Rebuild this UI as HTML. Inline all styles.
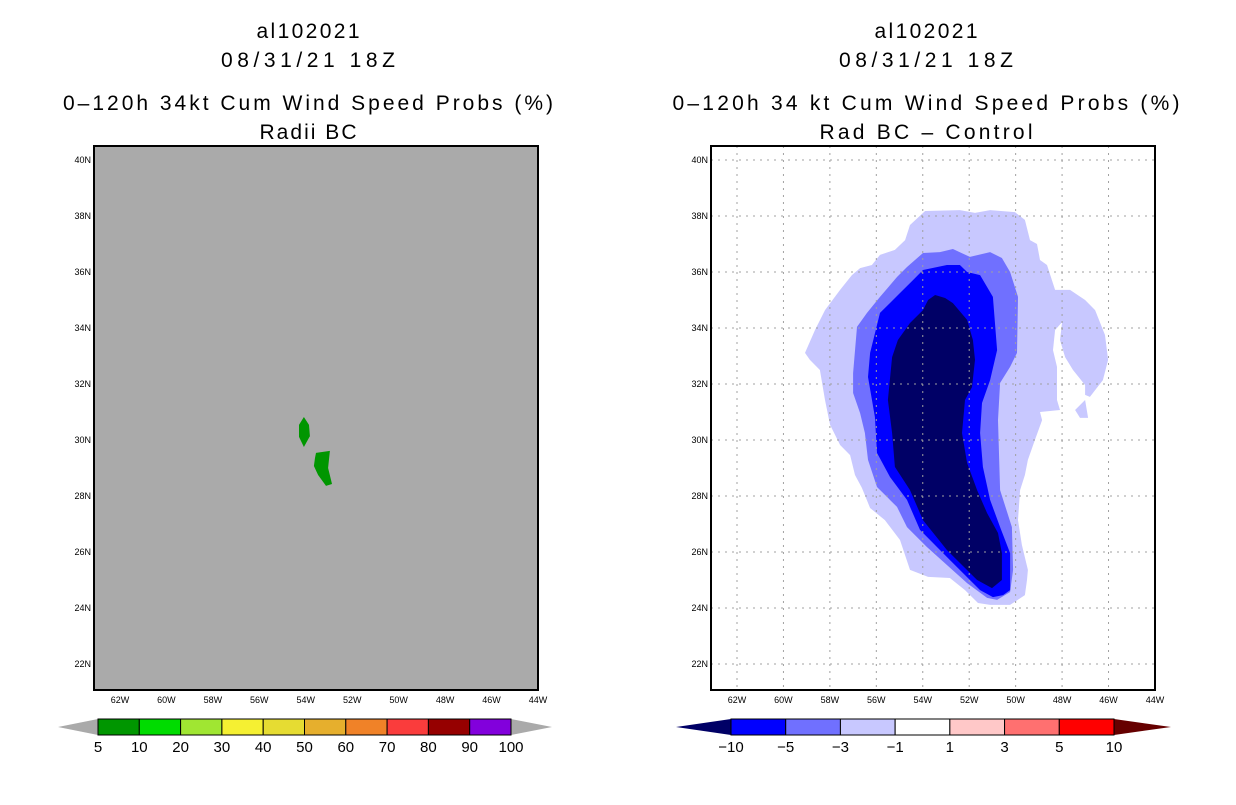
<!DOCTYPE html>
<html><head><meta charset="utf-8"><style>
body{margin:0;background:#fff;width:1236px;height:800px;overflow:hidden}
svg text{font-family:"Liberation Sans",sans-serif}
</style></head><body>
<svg width="1236" height="800">
<g id="titles" font-size="21" text-anchor="middle" fill="#000" lengthAdjust="spacing">
<text x="308" y="38" textLength="103">al102021</text>
<text x="308" y="67" textLength="174">08/31/21 18Z</text>
<text x="308" y="110" textLength="490">0–120h 34kt Cum Wind Speed Probs (%)</text>
<text x="308" y="139" textLength="97">Radii BC</text>
<text x="926" y="38" textLength="103">al102021</text>
<text x="926" y="67" textLength="174">08/31/21 18Z</text>
<text x="926" y="110" textLength="507">0–120h 34 kt Cum Wind Speed Probs (%)</text>
<text x="926" y="139" textLength="213">Rad BC – Control</text>
</g>
<g id="left"></g>
<g id="right"></g>
<g id="cb"></g>
</svg>
<script>
const lonTicks=[62,60,58,56,54,52,50,48,46,44];
const latTicks=[40,38,36,34,32,30,28,26,24,22];
const blobA=[[54.08,30.82],[53.86,30.54],[53.82,30.14],[54.08,29.75],[54.29,30.11],[54.29,30.54]];
const blobB=[[53.56,29.54],[52.96,29.61],[53.04,29.0],[52.87,28.43],[53.13,28.36],[53.47,28.75],[53.65,29.07],[53.6,29.36]];
const diffM1=[[53.9,38.18],[52.4,38.21],[51.75,38.11],[51.1,38.21],[50.03,38.14],[49.6,37.86],[49.38,37.14],[49.08,37.0],[48.95,36.43],[48.65,36.25],[48.3,35.36],[47.66,35.36],[47.01,35.0],[46.58,34.64],[46.15,33.75],[46.02,32.86],[46.24,32.14],[46.8,31.54],[47.01,31.61],[47.01,31.96],[47.53,32.5],[47.87,32.96],[48.09,33.57],[48.0,34.21],[48.3,33.93],[48.39,33.21],[48.22,32.61],[48.22,31.43],[48.09,31.07],[48.95,31.0],[48.86,30.71],[49.17,30.0],[49.47,29.29],[49.6,28.75],[49.81,28.21],[49.9,27.14],[49.73,26.25],[49.47,25.36],[49.51,25.0],[49.6,24.46],[50.24,24.11],[51.1,24.11],[51.62,24.18],[52.18,24.64],[52.83,25.07],[53.77,25.11],[54.55,25.36],[54.98,26.43],[55.63,27.14],[56.27,27.57],[56.62,28.29],[56.92,28.75],[57.13,29.46],[57.56,29.82],[57.99,30.54],[58.21,31.43],[58.43,32.5],[58.86,32.86],[59.07,33.11],[58.64,33.93],[58.21,34.64],[57.56,35.36],[57.05,35.89],[56.7,36.14],[56.19,36.25],[55.84,36.61],[55.2,36.79],[54.76,37.14],[54.55,37.68]];
const diffM1b=[[47.44,31.07],[47.01,31.43],[46.88,30.79],[47.23,30.79]];
const diffM3=[[53.99,36.68],[53.26,36.71],[52.7,36.82],[51.97,36.54],[51.1,36.71],[50.59,36.5],[50.24,36.0],[49.9,35.11],[49.94,33.11],[50.24,32.61],[50.67,32.04],[50.76,30.71],[50.67,28.21],[50.16,26.89],[50.11,25.36],[50.24,24.57],[50.8,24.29],[51.23,24.36],[52.09,24.89],[53.82,26.18],[54.68,26.89],[55.11,27.61],[55.97,28.32],[56.36,29.29],[56.49,30.25],[56.7,30.96],[57.0,31.68],[57.0,32.39],[56.83,34.04],[56.4,34.54],[55.84,35.11],[55.11,35.82],[54.68,36.18]];
const diffM5=[[53.99,36.07],[52.96,36.25],[52.4,36.25],[52.09,36.0],[51.53,35.89],[50.98,35.11],[50.8,33.21],[51.1,32.14],[51.45,31.32],[51.53,30.25],[51.41,29.04],[51.1,27.86],[50.67,26.89],[50.24,25.96],[50.24,24.64],[50.54,24.46],[50.98,24.39],[51.53,24.64],[52.96,25.82],[54.12,26.79],[54.68,27.86],[55.41,28.68],[55.97,29.54],[56.06,30.82],[56.36,32.25],[56.27,33.11],[55.84,34.54],[54.98,35.25],[54.42,35.71]];
const diffM10=[[53.47,35.18],[53.04,35.07],[52.7,34.89],[52.09,34.29],[51.84,33.57],[51.75,32.86],[51.88,31.89],[52.18,31.43],[52.31,30.25],[52.09,29.18],[51.66,28.21],[51.23,27.39],[50.76,26.68],[50.59,25.96],[50.59,25.0],[51.02,24.71],[51.66,25.0],[52.96,26.07],[53.99,27.14],[54.55,28.21],[55.2,29.04],[55.32,30.25],[55.5,31.43],[55.32,32.96],[55.07,33.57],[54.55,34.18],[53.99,34.64],[53.77,35.0]];
const probLevels=["5","10","20","30","40","50","60","70","80","90","100"];
const probColors=["#009600","#00dc00","#a0e632","#f5f032","#e6dc32","#e6af2d","#f08228","#fa3c3c","#960000","#8200dc"];
const diffLevels=["−10","−5","−3","−1","1","3","5","10"];
const diffColors=["#0000ff","#7070ff","#c8c8ff","#ffffff","#ffc8c8","#ff7070","#ff0000"];

const NS="http://www.w3.org/2000/svg";
function mk(p,t,a){const e=document.createElementNS(NS,t);for(const k in a)e.setAttribute(k,a[k]);p.appendChild(e);return e;}
function xs(x0){return lon=>x0+(62-lon)*23.22;}
function ys(lat){return 160+(40-lat)*28;}
function poly(g,pts,X,fill,name){const e=mk(g,'polygon',{points:pts.map(p=>X(p[0]).toFixed(1)+','+ys(p[1]).toFixed(1)).join(' '),fill:fill});

}
function frame(g,x0,bg){
mk(g,'rect',{x:x0,y:146,width:444,height:544,fill:bg});
return xs(x0+26);}
function axes(g,x0,grid){
const X=xs(x0+26);
if(grid){lonTicks.forEach(l=>{if(l!==44)mk(g,'line',{x1:X(l),x2:X(l),y1:146,y2:690,stroke:'#a0a0a0','stroke-dasharray':'2,5'});});
latTicks.forEach(l=>mk(g,'line',{x1:x0,x2:x0+444,y1:ys(l),y2:ys(l),stroke:'#a0a0a0','stroke-dasharray':'2,5'}));}
mk(g,'rect',{x:x0,y:146,width:444,height:544,fill:'none',stroke:'#000','stroke-width':2});
lonTicks.forEach(l=>{const t=mk(g,'text',{x:X(l),y:703,'font-size':9,'text-anchor':'middle'});t.textContent=l+'W';

});
latTicks.forEach(l=>{const t=mk(g,'text',{x:x0-3,y:ys(l)+3,'font-size':9,'text-anchor':'end'});t.textContent=l+'N';

});}
const L=document.getElementById('left'),R=document.getElementById('right');
let X=frame(L,94,'#aaaaaa');
poly(L,blobA,X,'#009600','prob-area-north');
poly(L,blobB,X,'#009600','prob-area-south');
axes(L,94,false);
X=frame(R,711,'#ffffff');
poly(R,diffM1,X,'#c8c8ff','diff-contour-minus1');
poly(R,diffM1b,X,'#c8c8ff','diff-contour-minus1-island');
poly(R,diffM3,X,'#7070ff','diff-contour-minus3');
poly(R,diffM5,X,'#0000ff','diff-contour-minus5');
poly(R,diffM10,X,'#000066','diff-contour-minus10');
axes(R,711,true);
function colorbar(x0,x1,xl,xr,cols,labels,lc,rc,name){
const g=mk(document.getElementById('cb'),'g',{});


const w=(x1-x0)/cols.length;
mk(g,'polygon',{points:`${x0},719 ${x0},735 ${xl},727`,fill:lc});
mk(g,'polygon',{points:`${x1},719 ${x1},735 ${xr},727`,fill:rc});
cols.forEach((c,i)=>mk(g,'rect',{x:x0+i*w,y:719,width:w,height:16,fill:c,stroke:'#000','stroke-width':1}));
labels.forEach((s,i)=>{const t=mk(g,'text',{x:x0+i*w,y:752,'font-size':15,'text-anchor':'middle'});t.textContent=s;

});}
colorbar(98,511,58,552,probColors,probLevels,'#aaaaaa','#aaaaaa','prob-colorbar');
colorbar(731,1114,676,1171,diffColors,diffLevels,'#000066','#660000','diff-colorbar');
</script>
</body></html>
